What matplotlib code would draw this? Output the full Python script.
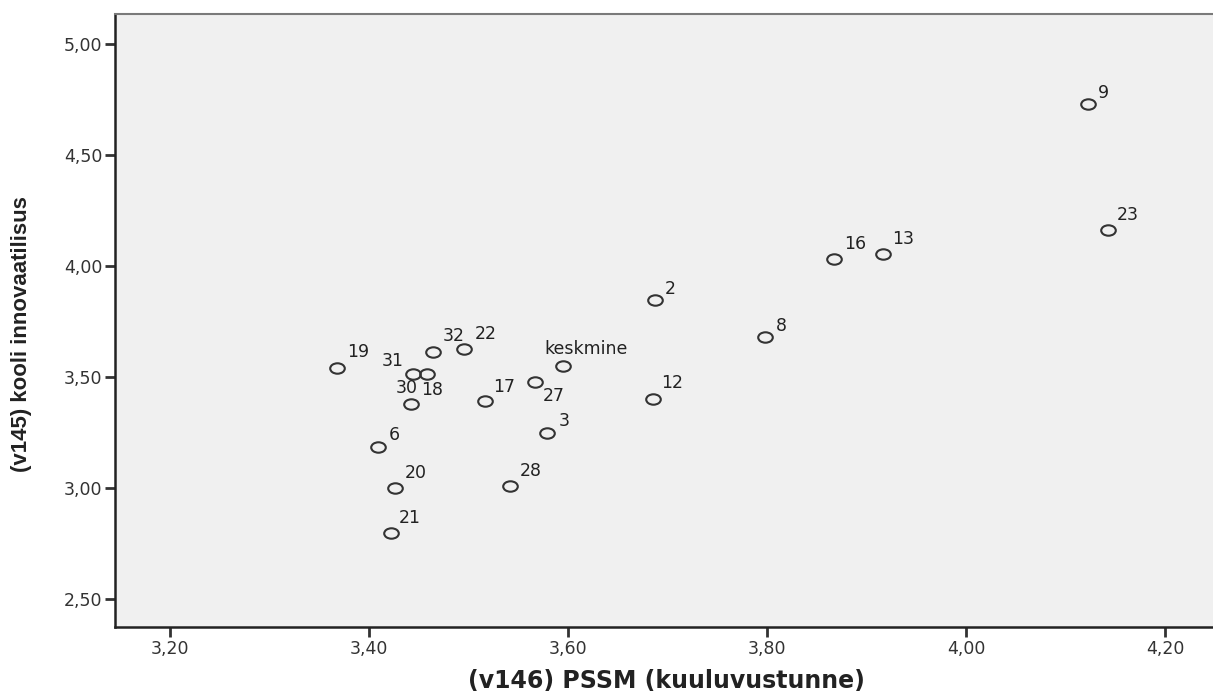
import matplotlib
matplotlib.use('Agg')
import matplotlib.pyplot as plt
from matplotlib.path import Path
from matplotlib.transforms import Affine2D

plt.rcParams['font.family'] = ['DejaVu Sans']

# School-level values
labels = ['9', '23', '16', '13', '2', '8', '12', 'keskmine', '27', '17', '3',
          '28', '19', '31', '18', '32', '22', '30', '6', '20', '21']
pssm = [4.123, 4.143, 3.867, 3.917, 3.687, 3.798, 3.685, 3.595, 3.567, 3.517, 3.579,
        3.542, 3.368, 3.444, 3.458, 3.464, 3.495, 3.442, 3.409, 3.426, 3.422]
innov = [4.730, 4.162, 4.032, 4.054, 3.847, 3.680, 3.401, 3.550, 3.477, 3.392, 3.248,
         3.009, 3.541, 3.514, 3.514, 3.613, 3.626, 3.378, 3.185, 3.000, 2.797]

x_ticks = [3.2, 3.4, 3.6, 3.8, 4.0, 4.2]
y_ticks = [2.5, 3.0, 3.5, 4.0, 4.5, 5.0]

# label offsets in pixels (dx right, dy down) relative to the marker
label_offsets = {
    '9': (15, -11), '23': (19, -15), '16': (21, -15), '13': (20, -15),
    '2': (16, -11), '8': (16, -11), '12': (20, -16), 'keskmine': (23, -17),
    '27': (19, 14), '17': (19, -14), '3': (17, -12), '28': (20, -15),
    '19': (21, -16), '31': (-20, -13), '18': (5, 16), '32': (21, -16),
    '22': (22, -15), '30': (-4, -16), '6': (16, -12), '20': (21, -15),
    '21': (19, -15),
}

W, H = 1213, 693
fig = plt.figure(figsize=(W / 100, H / 100), dpi=100)
ax = fig.add_axes([115 / W, 66 / H, 1098 / W, 613 / H])
ax.set_facecolor('#f0f0f0')

# markers in the reference are slightly wide ellipses
ellipse = Path.unit_circle().transformed(Affine2D().scale(1.4, 1.0))
ax.plot(pssm, innov, linestyle='none', marker=ellipse, markersize=10.5,
        markerfacecolor='none', markeredgecolor='#333333', markeredgewidth=1.5)

for lab, x, y in zip(labels, pssm, innov):
    dx, dy = label_offsets[lab]
    ax.annotate(lab, (x, y), xytext=(dx * 0.72, -dy * 0.72), textcoords='offset points',
                ha='center', va='center', fontsize=12.5, color='#222222')

ax.set_xlim(3.1447, 4.2482)
ax.set_ylim(2.374, 5.135)
ax.set_xticks(x_ticks)
ax.set_yticks(y_ticks)
ax.set_xticklabels([f'{v:.2f}'.replace('.', ',') for v in x_ticks])
ax.set_yticklabels([f'{v:.2f}'.replace('.', ',') for v in y_ticks])
ax.tick_params(axis='both', direction='out', length=7, width=2, color='#333333',
               labelsize=12.5, labelcolor='#333333', pad=2)

for side in ['left', 'bottom']:
    ax.spines[side].set_color('#222222')
    ax.spines[side].set_linewidth(1.8)
ax.spines['top'].set_color('#7a7a7a')
ax.spines['top'].set_linewidth(1.5)
ax.spines['right'].set_visible(False)

fig.text(666 / W, 1 - 681 / H, '(v146) PSSM (kuuluvustunne)', ha='center', va='center',
         fontsize=17, fontweight='bold', color='#222222', family='DejaVu Sans')
fig.text(22 / W, 1 - 334 / H, '(v145) kooli innovaatilisus', ha='center', va='center',
         rotation=90, fontsize=16, fontweight='bold', color='#222222',
         family=['Liberation Sans Narrow', 'Liberation Sans', 'DejaVu Sans'])

fig.savefig('out.png', dpi=100)
